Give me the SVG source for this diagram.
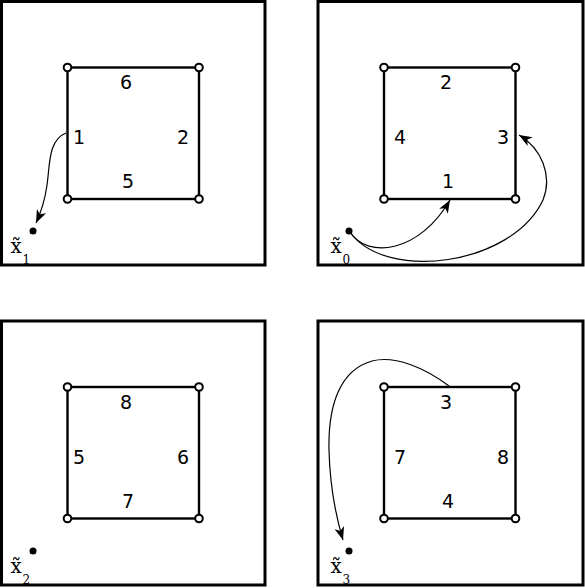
<svg xmlns="http://www.w3.org/2000/svg" width="585" height="588" viewBox="0 0 585 588">
<style>
.frame{fill:#fff;stroke:#000;stroke-width:3}
.sq{fill:none;stroke:#000;stroke-width:2.4}
.v{fill:#fff;stroke:#000;stroke-width:2}
.dot{fill:#000}
.num{font-family:"DejaVu Sans",sans-serif;font-size:19px;fill:#000;text-anchor:middle}
.lbl{font-family:"DejaVu Serif",serif;font-size:20px;fill:#000}
.sub{font-family:"DejaVu Serif",serif;font-size:12px;fill:#000}
.arr{fill:none;stroke:#000;stroke-width:1.2;marker-end:url(#ah)}
</style>
<defs>
<marker id="ah" markerUnits="userSpaceOnUse" markerWidth="14" markerHeight="10" refX="13" refY="5" orient="auto" viewBox="0 0 14 10">
<path d="M0,0 L13,5 L0,10 L3.5,5 z" fill="#000"/>
</marker>
</defs>
<rect width="585" height="588" fill="#fff"/>
<g id="panel1">
<rect class="frame" x="1.5" y="1.5" width="263.5" height="263.5"/>
<rect class="sq" x="67.5" y="67.5" width="131.5" height="131.5"/>
<circle class="v" cx="67.5" cy="67.5" r="3.8"/><circle class="v" cx="199" cy="67.5" r="3.8"/>
<circle class="v" cx="67.5" cy="199" r="3.8"/><circle class="v" cx="199" cy="199" r="3.8"/>
<text class="num" x="126" y="89">6</text><text class="num" x="79" y="144">1</text>
<text class="num" x="183" y="144">2</text><text class="num" x="128" y="188">5</text>
<circle class="dot" cx="33" cy="231" r="3.5"/>
<text class="lbl" x="10.5" y="253">x̃</text><text class="sub" x="22.5" y="264">1</text>
</g>
<g id="panel2">
<rect class="frame" x="318" y="1.5" width="265" height="263.5"/>
<rect class="sq" x="384" y="67.5" width="131.5" height="131.5"/>
<circle class="v" cx="384" cy="67.5" r="3.8"/><circle class="v" cx="515.5" cy="67.5" r="3.8"/>
<circle class="v" cx="384" cy="199" r="3.8"/><circle class="v" cx="515.5" cy="199" r="3.8"/>
<text class="num" x="446" y="89">2</text><text class="num" x="400" y="144">4</text>
<text class="num" x="503" y="144">3</text><text class="num" x="448" y="188">1</text>
<circle class="dot" cx="349" cy="231" r="3.5"/>
<text class="lbl" x="330.5" y="253">x̃</text><text class="sub" x="342.5" y="264">0</text>
</g>
<g id="panel3">
<rect class="frame" x="1.5" y="321" width="263.5" height="264"/>
<rect class="sq" x="67.5" y="387" width="131.5" height="131.5"/>
<circle class="v" cx="67.5" cy="387" r="3.8"/><circle class="v" cx="199" cy="387" r="3.8"/>
<circle class="v" cx="67.5" cy="518.5" r="3.8"/><circle class="v" cx="199" cy="518.5" r="3.8"/>
<text class="num" x="126" y="409">8</text><text class="num" x="79" y="464">5</text>
<text class="num" x="183" y="464">6</text><text class="num" x="128" y="508">7</text>
<circle class="dot" cx="33" cy="551" r="3.5"/>
<text class="lbl" x="10.5" y="573">x̃</text><text class="sub" x="22.5" y="584">2</text>
</g>
<g id="panel4">
<rect class="frame" x="318" y="321" width="265" height="264"/>
<rect class="sq" x="384" y="387" width="131.5" height="131.5"/>
<circle class="v" cx="384" cy="387" r="3.8"/><circle class="v" cx="515.5" cy="387" r="3.8"/>
<circle class="v" cx="384" cy="518.5" r="3.8"/><circle class="v" cx="515.5" cy="518.5" r="3.8"/>
<text class="num" x="446" y="409">3</text><text class="num" x="400" y="464">7</text>
<text class="num" x="503" y="464">8</text><text class="num" x="448" y="508">4</text>
<circle class="dot" cx="349" cy="551" r="3.5"/>
<text class="lbl" x="330.5" y="573">x̃</text><text class="sub" x="342.5" y="584">3</text>
</g>
<g id="connectors">
<path class="arr" d="M66,133 C48,140 50,165 47,185 C45,200 42,210 36,223"/>
<path class="arr" d="M350,232 C368,260 420,252 450,200"/>
<path class="arr" d="M350,232 C385,282 512,266 543,200 C553,175 541,148 519,135"/>
<path class="arr" d="M449,386 C425,368 395,355 372,361 C340,370 328,405 329,450 C330,490 337,520 343,540"/>
</g>
</svg>
